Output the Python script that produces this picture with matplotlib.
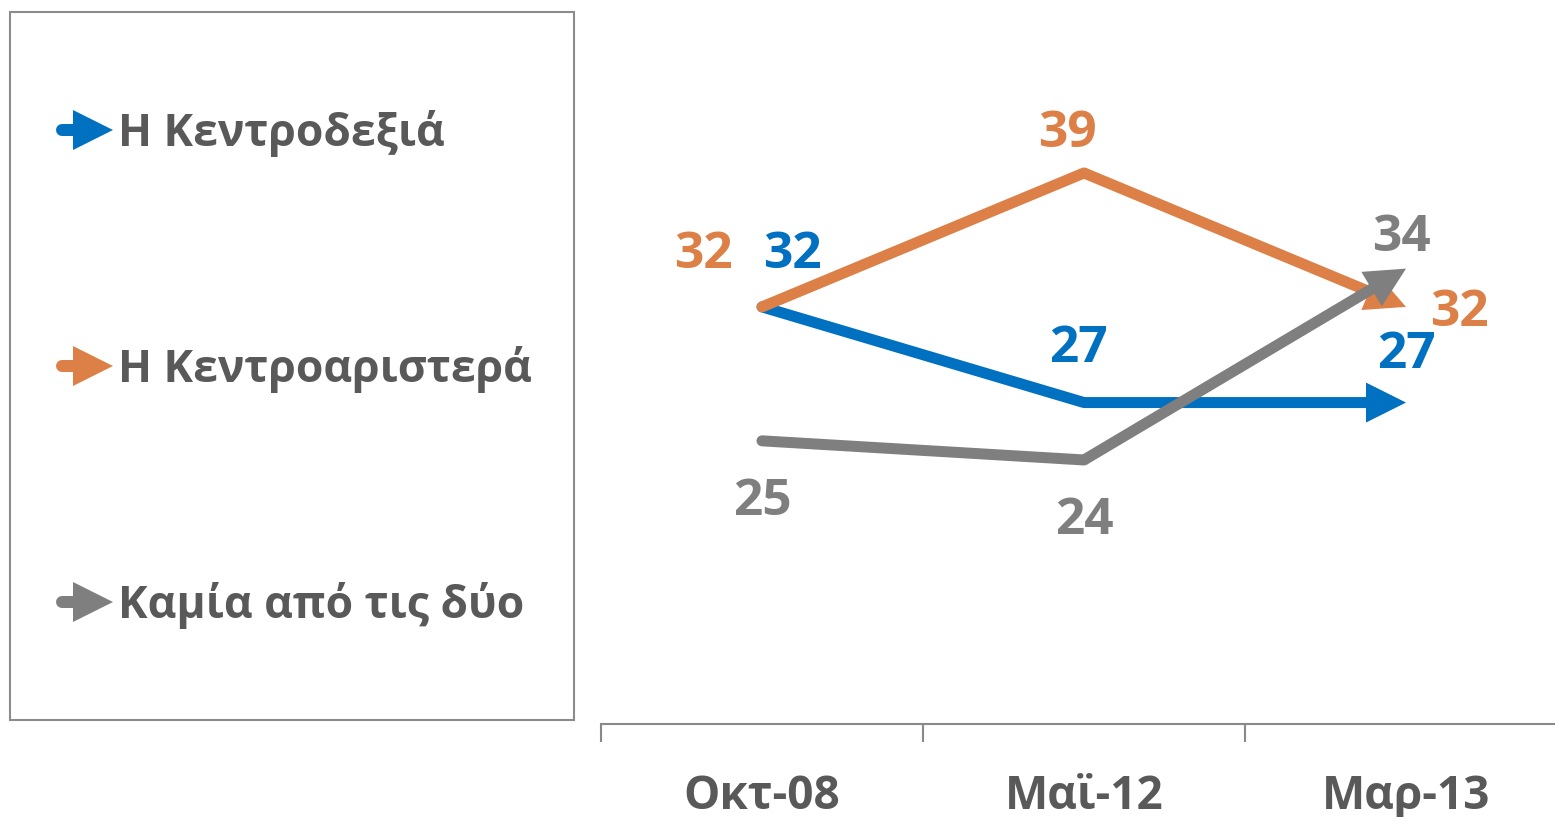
import matplotlib
matplotlib.use('Agg')
import matplotlib.pyplot as plt
from matplotlib.patches import Rectangle, Polygon
import numpy as np

# ---- data ----
categories = ['Οκτ-08', 'Μαϊ-12', 'Μαρ-13']
series_names = ['Η Κεντροδεξιά', 'Η Κεντροαριστερά', 'Καμία από τις δύο']
centre_right = [32, 27, 27]
centre_left = [32, 39, 32]
neither = [25, 24, 34]
series_values = [centre_right, centre_left, neither]
colors = ['#0070C0', '#DD8047', '#7F7F7F']

# label offsets (pixels, relative to point; baseline of text)
label_offsets = [
    [(30, 39), (-6, 41), (0, 35)],
    [(-59, 39), (-17, 26), (53, -19)],
    [(0, -74), (0, -74), (-5, 18)],
]

plt.rcParams['font.family'] = ['Open Sans', 'DejaVu Sans']
plt.rcParams['font.weight'] = 'bold'

W, H = 1555, 817
fig = plt.figure(figsize=(W / 100, H / 100), dpi=100)
PX = 0.72  # points per pixel at dpi 100

ax = fig.add_axes([601 / W, (H - 724) / H, 966 / W, 724 / H])
ax.set_xlim(-0.5, 2.5)
ax.set_ylim(10.2, 48.04)
for s in ['left', 'top', 'right']:
    ax.spines[s].set_visible(False)
ax.spines['bottom'].set_color('#898989')
ax.spines['bottom'].set_linewidth(1.5)
ax.set_yticks([])
ax.set_xticks(range(len(categories)))
ax.set_xticklabels(categories)
ax.set_xticks(np.arange(-0.5, len(categories), 1.0), minor=True)
ax.tick_params(axis='x', which='major', length=0, pad=35, labelsize=33,
               labelcolor='#595959')
ax.tick_params(axis='x', which='minor', length=13, width=1.5, color='#898989')

lw = 11 * PX
x = np.arange(len(categories))
for k, (vals, col) in enumerate(zip(series_values, colors)):
    z = 3 + k
    ax.plot(x[:2], vals[:2], color=col, lw=lw, solid_capstyle='round',
            solid_joinstyle='round', zorder=z)
    ax.annotate('', xy=(x[2], vals[2]), xytext=(x[1], vals[1]),
                arrowprops=dict(arrowstyle='simple,head_length=%.2f,head_width=%.2f,tail_width=%.2f'
                                % (40 * PX, 40 * PX, lw),
                                mutation_scale=1, fc=col, ec='none', lw=0,
                                shrinkA=0, shrinkB=0),
                zorder=z)
    for i, v in enumerate(vals):
        dx, dy = label_offsets[k][i]
        ax.annotate(str(v), xy=(x[i], v), xytext=(dx, dy), textcoords='offset pixels',
                    ha='center', va='baseline', fontsize=37, color=col,
                    fontweight='bold', zorder=10)

# ---- legend (drawn in pixel coordinates) ----
lax = fig.add_axes([0, 0, 1, 1])
lax.set_xlim(0, W)
lax.set_ylim(H, 0)
lax.axis('off')
lax.add_patch(Rectangle((10, 12), 564, 708, fill=False, ec='#8C8C8C', lw=1.5))
for name, col, yc in zip(series_names, colors, [130, 366, 602]):
    lax.plot([62, 76], [yc, yc], color=col, lw=12 * PX, solid_capstyle='round')
    lax.add_patch(Polygon([(73, yc - 20), (73, yc + 20), (113, yc)], closed=True,
                          fc=col, ec='none'))
    lax.text(118, yc + 16, name, ha='left', va='baseline', fontsize=32,
             color='#595959', fontweight='bold')

fig.savefig('out.png', dpi=100)
